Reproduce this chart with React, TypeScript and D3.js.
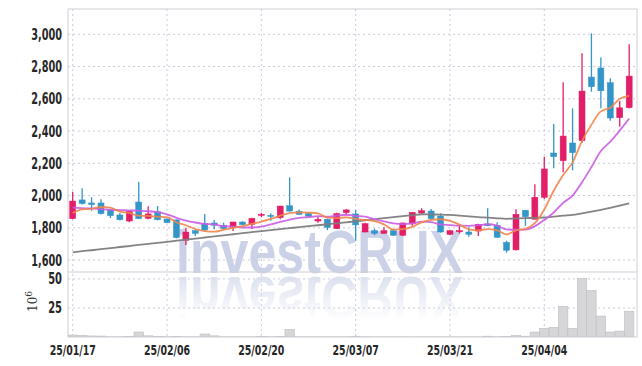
import React from "react";
import * as d3 from "d3";

const dates = [
  "25/01/17","25/01/20","25/01/21","25/01/22","25/01/23","25/01/24","25/01/31","25/02/03","25/02/04","25/02/05",
  "25/02/06","25/02/07","25/02/10","25/02/11","25/02/12","25/02/13","25/02/14","25/02/17","25/02/18","25/02/19",
  "25/02/20","25/02/21","25/02/24","25/02/25","25/02/26","25/02/27","25/02/28","25/03/04","25/03/05","25/03/06",
  "25/03/07","25/03/10","25/03/11","25/03/12","25/03/13","25/03/14","25/03/17","25/03/18","25/03/19","25/03/20",
  "25/03/21","25/03/24","25/03/25","25/03/26","25/03/27","25/03/28","25/03/31","25/04/01","25/04/02","25/04/03",
  "25/04/04","25/04/07","25/04/08","25/04/09","25/04/10","25/04/11","25/04/14","25/04/15","25/04/16","25/04/17",
];

const openP = [1857,1973,1954,1954,1911,1880,1842,1960,1859,1900,1855,1849,1723,1782,1826,1830,1816,1803,1836,1822,
  1880,1878,1863,1937,1903,1888,1842,1853,1795,1894,1886,1774,1782,1766,1782,1754,1824,1892,1904,1873,
  1760,1780,1774,1780,1824,1816,1710,1663,1909,1853,1989,2264,2216,2326,2340,2735,2791,2700,2483,2545];
const highP = [2024,2045,1989,1977,1915,1892,1905,2086,1934,1935,1858,1852,1801,1785,1886,1849,1832,1838,1840,1862,
  1894,1890,1937,2113,1913,1894,1869,1857,1893,1915,1911,1832,1795,1803,1793,1833,1898,1921,1917,1890,
  1785,1818,1803,1825,1921,1834,1720,1915,1911,2070,2241,2444,2702,2541,2882,3006,2857,2727,2586,2938];
const lowP = [1853,1944,1906,1882,1861,1846,1834,1855,1853,1846,1828,1735,1694,1749,1774,1791,1793,1780,1818,1793,
  1865,1844,1853,1900,1880,1870,1832,1786,1793,1878,1720,1772,1754,1762,1750,1750,1813,1888,1855,1770,
  1756,1765,1745,1749,1810,1738,1646,1660,1812,1851,1979,2169,2144,2157,2328,2644,2541,2464,2427,2540];
const closeP = [1966,1950,1944,1888,1875,1850,1903,1857,1886,1850,1832,1739,1774,1766,1787,1816,1795,1836,1820,1859,
  1884,1875,1935,1904,1884,1872,1853,1803,1888,1911,1818,1826,1766,1782,1754,1830,1896,1906,1857,1774,
  1782,1783,1760,1822,1813,1741,1661,1884,1869,1989,2165,2241,2369,2266,2648,2675,2650,2481,2544,2741];

const ma5 = [1892,1915,1918,1929,1925,1901,1892,1875,1874,1869,1866,1833,1816,1792,1780,1776,1788,1800,1811,1825,
  1839,1855,1875,1891,1896,1894,1890,1863,1860,1865,1855,1849,1842,1821,1789,1792,1806,1834,1849,1853,
  1843,1820,1791,1784,1792,1784,1759,1784,1794,1829,1914,2030,2127,2206,2338,2440,2522,2544,2600,2618];
const ma10 = [1925,1922,1920,1916,1912,1910,1908,1906,1903,1897,1884,1862,1845,1833,1824,1821,1810,1808,1802,1802,
  1808,1821,1837,1851,1861,1866,1872,1869,1876,1881,1874,1869,1853,1840,1827,1823,1827,1838,1835,1821,
  1817,1813,1812,1816,1822,1813,1790,1788,1789,1810,1849,1895,1955,2000,2083,2177,2276,2335,2403,2478];
const maLong = [1648,1655,1661,1668,1674,1681,1687,1694,1700,1707,1713,1720,1727,1733,1740,1747,1753,1760,1767,1773,
  1780,1786,1792,1798,1804,1810,1816,1822,1828,1834,1840,1847,1853,1860,1866,1872,1878,1884,1883,1882,
  1880,1876,1871,1866,1863,1859,1856,1858,1860,1862,1864,1869,1875,1880,1890,1900,1911,1923,1937,1952];

// volume in millions
const volume = [1.7,1.4,0.9,0.8,0.2,0.2,0.3,4.3,1.0,0.6,0.2,0.6,0.2,0.2,2.6,1.0,0.2,0.2,0.2,0.2,
  0.5,0.2,0.5,6.6,0.2,0.2,0.2,0.2,0.2,0.2,0.7,0.2,0.1,0.1,0.1,0.1,0.1,0.1,0.1,0.1,
  0.1,0.1,0.1,0.1,0.7,0.2,0.3,1.2,0.7,4.3,7.4,8.3,26.5,7.4,50.5,40,18,4.3,5.1,22.2];

const priceTicks = [1600,1800,2000,2200,2400,2600,2800,3000];
const volTicks = [25,50];
const dateTickIdx = [0,10,20,30,40,50];

const W = 642, H = 366;
const L = 68, R = 637, T = 9, MID = 272, B = 337;
const UP = "#e31e68", DOWN = "#3395c8";
const labelFont = "'DejaVu Sans Condensed', 'DejaVu Sans', sans-serif";

// approximate narrow label width
const labelWidth = (s: string) =>
  s.split("").reduce((a, ch) => a + (ch === "," ? 3.2 : ch === "/" ? 3.6 : 6.9), 0);

export default function App() {
  const n = dates.length;
  const x = d3.scaleLinear().domain([-0.5, n - 0.17]).range([L, R]);
  const y = d3.scaleLinear().domain([1526, 3157]).range([MID, T]);
  const yv = d3.scaleLinear().domain([0, 56]).range([B, MID]);
  const step = x(1) - x(0);
  const bw = 6;

  const line = (arr: number[]) =>
    d3.line<number>().x((_, i) => x(i)).y((v) => y(v)).curve(d3.curveMonotoneX)(arr) || "";

  const fmt = d3.format(",");

  return (
    <svg width={W} height={H} style={{ position: "absolute", left: 0, top: 0, background: "#fff" }}>
      <defs>
        <clipPath id="pclip"><rect x={L} y={T} width={R - L} height={MID - T} /></clipPath>
        <clipPath id="vclip"><rect x={L} y={MID} width={R - L} height={B - MID} /></clipPath>
        <linearGradient id="fade" x1="0" y1="0" x2="0" y2="1">
          <stop offset="0" stopColor="#fff" stopOpacity="1" />
          <stop offset="1" stopColor="#fff" stopOpacity="0" />
        </linearGradient>
        <mask id="refmask">
          <rect x={L} y={MID + 1} width={R - L} height={48} fill="url(#fade)" />
        </mask>
      </defs>

      {/* grid */}
      {priceTicks.map((t) => (
        <line key={"hp" + t} x1={L} x2={R} y1={y(t)} y2={y(t)} stroke="#c9cbdc" strokeDasharray="2,3" strokeWidth={1} />
      ))}
      {volTicks.map((t) => (
        <line key={"hv" + t} x1={L} x2={R} y1={yv(t)} y2={yv(t)} stroke="#c9cbdc" strokeDasharray="2,3" strokeWidth={1} />
      ))}
      {dateTickIdx.map((i) => (
        <line key={"vg" + i} x1={x(i)} x2={x(i)} y1={T} y2={B} stroke="#c9cbdc" strokeDasharray="2,3" strokeWidth={1} />
      ))}

      {/* watermark */}
      <text x={176} y={273} fontFamily="'Liberation Sans', Arial, sans-serif" fontWeight="bold" fontSize={62}
        fill="#cbd2e7" textLength={287} lengthAdjust="spacingAndGlyphs">investCRUX</text>
      <g mask="url(#refmask)">
        <text x={176} y={-277} transform="scale(1,-1)" fontFamily="'Liberation Sans', Arial, sans-serif" fontWeight="bold" fontSize={62}
          fill="#dadfee" textLength={287} lengthAdjust="spacingAndGlyphs">investCRUX</text>
      </g>

      {/* volume bars */}
      <g clipPath="url(#vclip)">
        {volume.map((v, i) => (
          <rect key={"v" + i} x={x(i) - step / 2} y={yv(v)} width={step} height={B - yv(v)}
            fill="#d6d6d8" stroke="#bdbdc2" strokeWidth={0.6} />
        ))}
      </g>

      {/* candles */}
      <g clipPath="url(#pclip)">
        {dates.map((d, i) => {
          const up = closeP[i] >= openP[i];
          const c = up ? UP : DOWN;
          const top = y(Math.max(openP[i], closeP[i]));
          const bot = y(Math.min(openP[i], closeP[i]));
          return (
            <g key={d}>
              <line x1={x(i)} x2={x(i)} y1={y(highP[i])} y2={y(lowP[i])} stroke={c} strokeWidth={1.3} />
              <rect x={x(i) - bw / 2} y={top} width={bw} height={Math.max(1.2, bot - top)} fill={c} stroke={c} strokeWidth={0.5} />
            </g>
          );
        })}
        <path d={line(maLong)} fill="none" stroke="#7d7d7d" strokeWidth={1.8} opacity={0.95} />
        <path d={line(ma10)} fill="none" stroke="#cc5ce6" strokeWidth={1.8} opacity={0.9} />
        <path d={line(ma5)} fill="none" stroke="#f0864a" strokeWidth={1.8} opacity={0.9} />
      </g>

      {/* frame */}
      <line x1={L} x2={R} y1={T} y2={T} stroke="#cfcfd6" />
      <line x1={L} x2={L} y1={T} y2={B} stroke="#cfcfd6" />
      <line x1={R} x2={R} y1={T} y2={B} stroke="#cfcfd6" />
      <line x1={L} x2={R} y1={MID} y2={MID} stroke="#cfcfd6" />
      <line x1={L} x2={R} y1={B} y2={B} stroke="#cfcfd6" />

      {/* axis labels */}
      {priceTicks.map((t) => (
        <text key={"pl" + t} x={62} y={y(t) + 5.5} textAnchor="end" fontFamily={labelFont} fontSize={15}
          fontWeight="bold" fill="#262626" textLength={labelWidth(fmt(t))} lengthAdjust="spacingAndGlyphs">{fmt(t)}</text>
      ))}
      {volTicks.map((t) => (
        <text key={"vl" + t} x={62} y={yv(t) + 5.5} textAnchor="end" fontFamily={labelFont} fontSize={15}
          fontWeight="bold" fill="#262626" textLength={labelWidth(String(t))} lengthAdjust="spacingAndGlyphs">{t}</text>
      ))}
      <text transform="translate(37,312) rotate(-90)" fontFamily="'DejaVu Serif', serif" fontSize={12} fill="#333">
        10<tspan dy={-5} fontSize={9}>6</tspan>
      </text>
      {dateTickIdx.map((i) => (
        <text key={"dl" + i} x={x(i)} y={355} textAnchor="middle" fontFamily={labelFont} fontSize={14}
          fontWeight="bold" fill="#262626" textLength={labelWidth(dates[i]) * 0.95} lengthAdjust="spacingAndGlyphs">{dates[i]}</text>
      ))}
    </svg>
  );
}
